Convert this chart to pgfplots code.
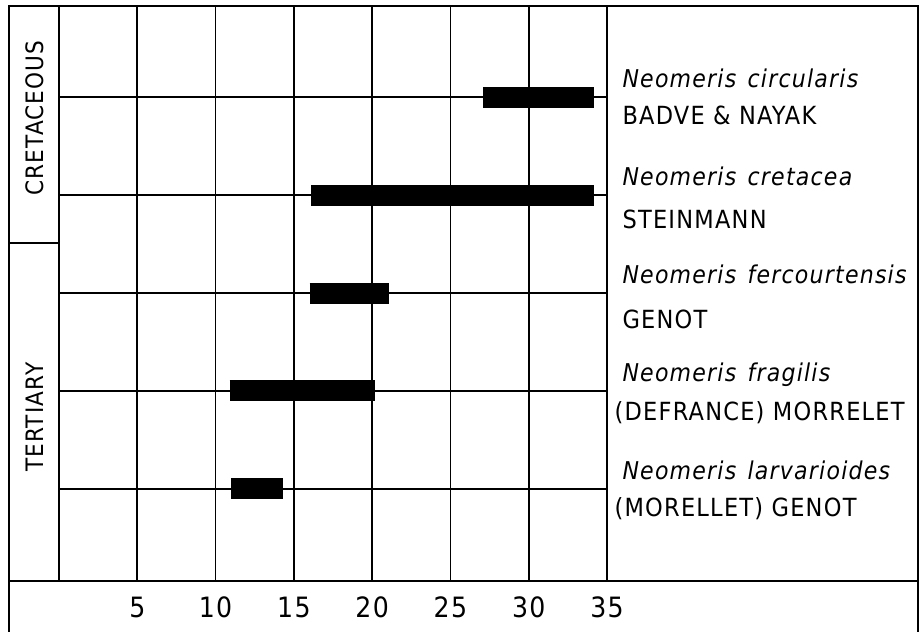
\documentclass[border=0pt]{standalone}
\usepackage{fontspec}
\setmainfont{DejaVu Sans Condensed}[ItalicFont={DejaVu Sans Condensed Oblique},LetterSpace=5]
\usepackage{pgfplots}
\pgfplotsset{compat=1.18}
\newcommand{\lab}{\fontsize{25bp}{28bp}\selectfont}
\newcommand{\ilab}{\fontsize{24.5bp}{28bp}\selectfont\itshape}
\begin{document}
\begin{tikzpicture}[x=1bp,y=1bp]
\useasboundingbox (-59,-51) rectangle (862,581);
\begin{axis}[
  at={(0,0)}, anchor=south west,
  width=548bp, height=575bp, scale only axis,
  xmin=0, xmax=35, ymin=0.06, ymax=5.93,
  xtick={5,10,...,35}, ytick={1,2,3,4,5}, yticklabels={},
  xmajorgrids, ymajorgrids,
  major grid style={black, line width=1.6bp},
  axis line style={black, line width=1.6bp},
  major tick length=0pt,
  /pgf/number format/assume math mode=true,
  xticklabel style={font=\fontsize{28bp}{30bp}\selectfont, anchor=base, yshift=-37bp},
  clip=false,
]
\addplot[black, line width=21bp] coordinates {(27.1,5) (34.2,5)};
\addplot[black, line width=21bp] coordinates {(16.1,4) (34.2,4)};
\addplot[black, line width=21bp] coordinates {(16.0,3) (21.1,3)};
\addplot[black, line width=21bp] coordinates {(10.9,2) (20.2,2)};
\addplot[black, line width=21bp] coordinates {(11.0,1) (14.3,1)};
\node[anchor=base west, xshift=12bp, yshift=10bp] at (axis cs:35,5) {\ilab Neomeris\ \hspace{3bp}circularis};
\node[anchor=base west, xshift=12bp, yshift=-27bp] at (axis cs:35,5) {\lab BADVE \& NAYAK};
\node[anchor=base west, xshift=12bp, yshift=10bp] at (axis cs:35,4) {\ilab Neomeris\ \hspace{3bp}cretacea};
\node[anchor=base west, xshift=12bp, yshift=-33bp] at (axis cs:35,4) {\lab STEINMANN};
\node[anchor=base west, xshift=12bp, yshift=10bp] at (axis cs:35,3) {\ilab Neomeris\ \hspace{3bp}fercourtensis};
\node[anchor=base west, xshift=12bp, yshift=-35bp] at (axis cs:35,3) {\lab GENOT};
\node[anchor=base west, xshift=12bp, yshift=9bp] at (axis cs:35,2) {\ilab Neomeris\ \hspace{3bp}fragilis};
\node[anchor=base west, xshift=4bp, yshift=-30bp] at (axis cs:35,2) {\lab (DEFRANCE) MORRELET};
\node[anchor=base west, xshift=12bp, yshift=9bp] at (axis cs:35,1) {\ilab Neomeris\ \hspace{3bp}larvarioides};
\node[anchor=base west, xshift=4bp, yshift=-28bp] at (axis cs:35,1) {\lab (MORELLET) GENOT};
\end{axis}
\draw[line width=1.6bp] (-50,-55) -- (-50,575) -- (859,575) -- (859,-55);
\draw[line width=1.6bp] (-50,0) -- (859,0);
\draw[line width=1.6bp] (-50,338) -- (0,338);
\node[rotate=90, inner sep=0pt] at (-24,463) {\fontsize{24bp}{30bp}\selectfont CRETACEOUS};
\node[rotate=90, inner sep=0pt] at (-24,164) {\fontsize{24bp}{30bp}\selectfont TERTIARY};
\end{tikzpicture}
\end{document}
